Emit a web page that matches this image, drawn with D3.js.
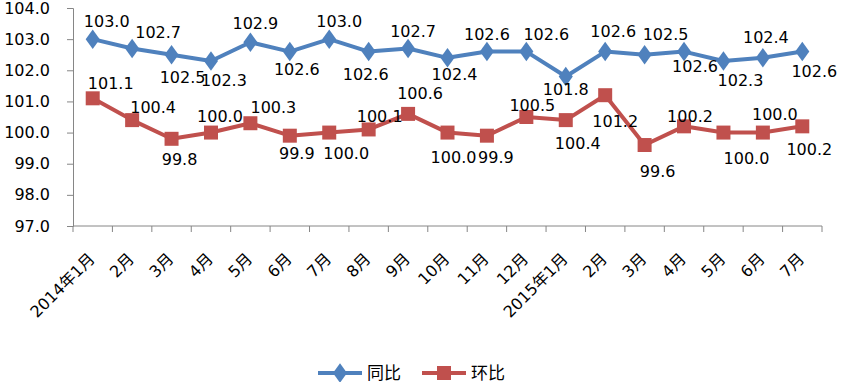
<!DOCTYPE html>
<html>
<head>
<meta charset="utf-8">
<script src="https://cdn.jsdelivr.net/npm/d3@7"></script>
<style>
  body{margin:0;background:#fff;}
  text{font-family:"DejaVu Sans","Noto Sans CJK SC",sans-serif;}
</style>
</head>
<body>
<div id="chart"></div>
<script>
const months = ['2014年1月','2月','3月','4月','5月','6月','7月','8月','9月','10月','11月','12月',
  '2015年1月','2月','3月','4月','5月','6月','7月'];
const tongbi = [103.0,102.7,102.5,102.3,102.9,102.6,103.0,102.6,102.7,102.4,102.6,102.6,101.8,102.6,102.5,102.6,102.3,102.4,102.6];
const huanbi = [101.1,100.4,99.8,100.0,100.3,99.9,100.0,100.1,100.6,100.0,99.9,100.5,100.4,101.2,99.6,100.2,100.0,100.0,100.2];
const yTicks = [97,98,99,100,101,102,103,104];

// label offsets from each point (px), placement as drawn in the original
const tbOff = [[14,-18],[26,-16],[11,23],[13,20],[5,-19],[7,18],[10,-18],[-3,23],[5,-17],[7,17],
  [0,-17],[20,-17],[0,13],[8,-20],[21,-20],[11,15],[17,20],[3,-20],[12,20]];
const hbOff = [[18,-15],[21,-13],[8,21],[9,-16],[23,-16],[7,18],[17,21],[11,-13],[12,-20],[6,25],
  [9,22],[6,-12],[12,23],[10,26],[13,26],[6,-10],[23,26],[12,-18],[7,23]];

const W=841,H=382;
const svg=d3.select('#chart').append('svg').attr('width',W).attr('height',H);
const m={l:73,r:19,t:8,b:156};
const x=d3.scaleBand().domain(d3.range(months.length)).range([m.l,W-m.r]);
const y=d3.scaleLinear().domain([97,104]).range([H-m.b,m.t]);
const cx=i=>x(i)+x.bandwidth()/2;
const axisCol='#868686';

// y axis
const ya=svg.append('g').attr('transform',`translate(${m.l},0)`)
  .call(d3.axisLeft(y).tickValues(yTicks).tickSize(6).tickPadding(17).tickFormat(d3.format('.1f')));
ya.select('.domain').attr('stroke',axisCol);
ya.selectAll('.tick line').attr('stroke',axisCol);
ya.selectAll('.tick text').attr('font-size',16).attr('fill','#000');

// x axis
const y0=y(97);
const xa=svg.append('g').attr('transform',`translate(0,${y0})`);
xa.append('line').attr('x1',m.l).attr('x2',W-m.r).attr('stroke',axisCol);
xa.selectAll('line.tk').data(d3.range(months.length+1)).join('line').attr('class','tk')
  .attr('x1',i=>i<months.length?x(i):x(i-1)+x.bandwidth()).attr('x2',i=>i<months.length?x(i):x(i-1)+x.bandwidth())
  .attr('y1',0).attr('y2',6).attr('stroke',axisCol);
xa.selectAll('text').data(months).join('text')
  .attr('transform',(d,i)=>`translate(${cx(i)+3},${34}) rotate(-45)`)
  .attr('text-anchor','end').attr('font-size',16).text(d=>d);

function series(vals,col,marker,off){
  const line=d3.line().x((d,i)=>cx(i)).y(d=>y(d));
  svg.append('path').attr('d',line(vals)).attr('fill','none').attr('stroke',col).attr('stroke-width',4).attr('stroke-linejoin','round');
  const sym=d3.symbol().type(marker).size(marker===d3.symbolSquare?196:110);
  svg.append('g').selectAll('path').data(vals).join('path')
    .attr('d',sym).attr('transform',(d,i)=>`translate(${cx(i)},${y(d)})${marker===d3.symbolDiamond?' scale(1.25,1)':''}`)
    .attr('fill',col);
  svg.append('g').selectAll('text').data(vals).join('text')
    .attr('x',(d,i)=>cx(i)+off[i][0]).attr('y',(d,i)=>y(d)+off[i][1])
    .attr('text-anchor','middle').attr('dominant-baseline','central')
    .attr('font-size',16).text(d=>d.toFixed(1));
}
series(tongbi,'#4F81BD',d3.symbolDiamond,tbOff);
series(huanbi,'#C0504D',d3.symbolSquare,hbOff);

// legend
const leg=[{name:'同比',col:'#4F81BD',m:d3.symbolDiamond,x:318},{name:'环比',col:'#C0504D',m:d3.symbolSquare,x:422}];
const lg=svg.append('g').attr('transform','translate(0,373)');
leg.forEach(l=>{
  lg.append('line').attr('x1',l.x).attr('x2',l.x+44).attr('stroke',l.col).attr('stroke-width',4);
  lg.append('path').attr('d',d3.symbol().type(l.m).size(l.m===d3.symbolSquare?196:110)())
    .attr('transform',`translate(${l.x+22},0)${l.m===d3.symbolDiamond?' scale(1.25,1)':''}`).attr('fill',l.col);
  lg.append('text').attr('x',l.x+49).attr('dominant-baseline','central').attr('font-size',17).text(l.name);
});
</script>
</body>
</html>
